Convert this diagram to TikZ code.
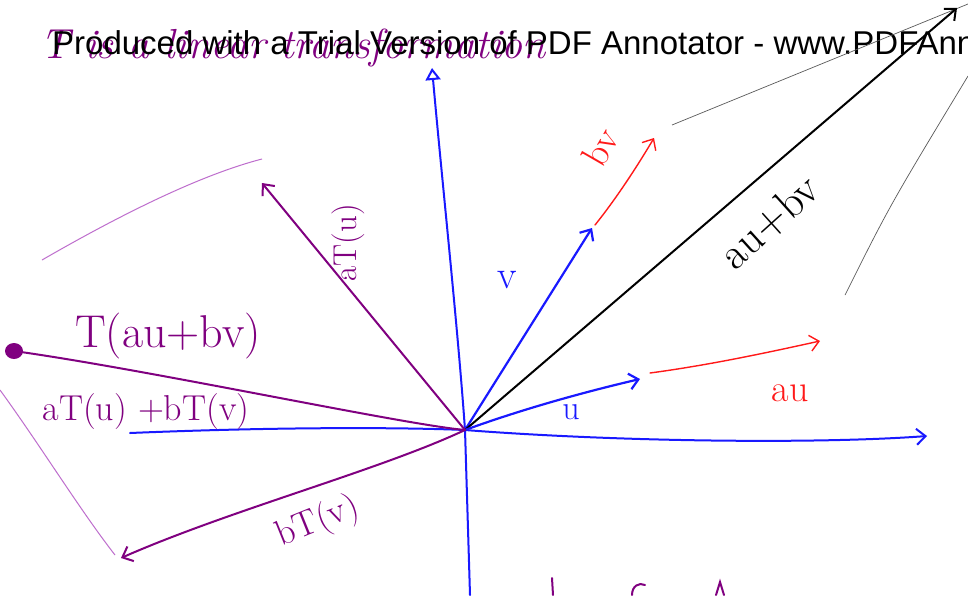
\documentclass[tikz,border=0pt]{standalone}
\usepackage{fontspec}
\newfontfamily\wmfont{Liberation Sans}
\usetikzlibrary{arrows.meta}
\definecolor{hpurple}{RGB}{128,0,128}
\definecolor{hblue}{RGB}{25,25,255}
\definecolor{hred}{RGB}{255,25,25}
\definecolor{lpurple}{RGB}{190,110,205}
\definecolor{thingray}{RGB}{90,90,90}
\newcommand{\fsz}[1]{\fontsize{#1}{#1}\selectfont}
\begin{document}
\begin{tikzpicture}[x=1pt,y=-1pt,
  barb/.style={-{Straight Barb[length=9pt,width=16pt]}},
  bluevec/.style={draw=hblue,line width=2.2pt,line cap=round,barb},
  redvec/.style={draw=hred,line width=1.4pt,line cap=round,barb},
  blackvec/.style={draw=black,line width=2pt,line cap=round,barb},
  purpvec/.style={draw=hpurple,line width=2pt,line cap=round,barb},
  thinline/.style={draw=thingray,line width=0.7pt},
  thinpurp/.style={draw=lpurple,line width=1pt},
  lbl/.style={inner sep=0pt}]
\useasboundingbox (0,0) rectangle (968,595);
\fill[white] (0,0) rectangle (968,595);
\clip (0,0) rectangle (968,595);

% named points
\coordinate (O) at (465,430);
\coordinate (XL) at (130,433);
\coordinate (XR) at (927,436);
\coordinate (YB) at (470,595);
\coordinate (YT) at (432,68);
\coordinate (V) at (592,228);
\coordinate (BVs) at (595,225);
\coordinate (BVe) at (654,138);
\coordinate (S) at (957,8);
\coordinate (U) at (640,379);
\coordinate (AUs) at (650,373);
\coordinate (AUe) at (820,341);
\coordinate (TU) at (262,183);
\coordinate (TS) at (14,351);
\coordinate (TV) at (121,558);
\coordinate (G1a) at (672,125);
\coordinate (G1b) at (968,4);
\coordinate (G2a) at (845,295);
\coordinate (G2b) at (968,76);
\coordinate (P1a) at (42,260);
\coordinate (P1b) at (262,159);
\coordinate (P2a) at (0,390);
\coordinate (P2b) at (115,555);

% title (handwritten) and watermark
\node[lbl,anchor=base west,text=hpurple,font=\itshape\fsz{42}] (title) at (40,58) {T is a linear transformation};
\node[lbl,anchor=base west,text=black,font=\wmfont\fsz{33}] (wm) at (52,54) {Produced with a Trial Version of PDF Annotator - www.PDFAnno};

% thin guide lines
\draw[thinline] (G1a) -- (G1b);
\draw[thinline] (G2a) .. controls (890,205) .. (G2b);
\draw[thinpurp] (P1a) .. controls (120,215) and (200,175) .. (P1b);
\draw[thinpurp] (P2a) .. controls (40,445) and (80,510) .. (P2b);

% axes
\draw[draw=hblue,line width=2pt,line cap=round,barb] (XL) .. controls (300,426) and (420,428) .. (O) .. controls (620,442) and (820,444) .. (XR);
\draw[draw=hblue,line width=2pt,line cap=round,-{Triangle[open,length=12pt,width=15pt]}] (YB) -- (O) .. controls (458,330) and (442,180) .. (YT);

% vectors in the plane
\draw[bluevec] (O) -- (V);
\draw[redvec] (BVs) .. controls (615,200) and (635,170) .. (BVe);
\draw[blackvec] (O) -- (S);
\draw[bluevec] (O) .. controls (520,410) and (580,393) .. (U);
\draw[redvec] (AUs) .. controls (710,365) and (770,352) .. (AUe);

% transformed vectors
\draw[purpvec] (O) -- (TU);
\draw[purpvec] (O) .. controls (380,470) and (230,510) .. (TV);
\draw[draw=hpurple,line width=2pt,line cap=round] (O) .. controls (400,424) and (150,370) .. (TS);
\fill[hpurple] (TS) ellipse (9 and 8);

% labels
\node[lbl,text=hpurple,font=\fsz{46}] (lT) at (168,336) {T(au+bv)};
\node[lbl,text=hpurple,font=\fsz{36}] (lsum) at (146,412) {aT(u) +bT(v)};
\node[lbl,text=hpurple,font=\fsz{33},rotate=90] (laTu) at (348,243) {aT(u)};
\node[lbl,text=hpurple,font=\fsz{36},rotate=22] (lbTv) at (318,522) {bT(v)};
\node[lbl,text=black,font=\fsz{44},rotate=42] (lsumv) at (770,222) {au+bv};
\node[lbl,text=hred,font=\fsz{38},rotate=60] (lbv) at (600,147) {bv};
\node[lbl,text=hblue,font=\fsz{40}] (lv) at (507,280) {v};
\node[lbl,text=hblue,font=\fsz{34}] (lu) at (571,412) {u};
\node[lbl,text=hred,font=\fsz{38}] (lau) at (790,393) {au};

% handwriting cut off at the bottom edge
\draw[draw=hpurple,line width=2pt,line cap=round] (552,578) -- (553,595);
\draw[draw=hpurple,line width=2pt,line cap=round] (632,595) .. controls (632,586) and (639,582) .. (645,585);
\draw[draw=hpurple,line width=2pt,line cap=round] (716,595) -- (720,582) -- (724,595);
\end{tikzpicture}
\end{document}
